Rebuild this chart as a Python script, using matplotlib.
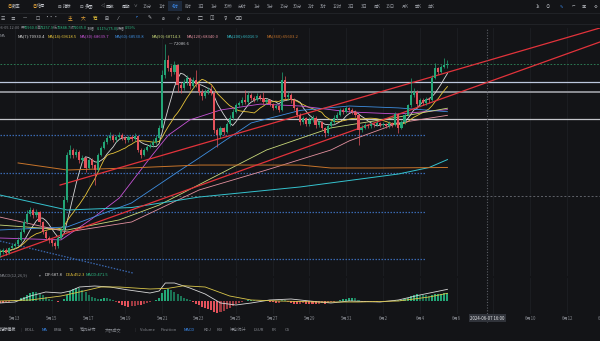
import numpy as np
import pandas as pd
import matplotlib
matplotlib.use("Agg")
import matplotlib.pyplot as plt
from matplotlib.lines import Line2D
from matplotlib.patches import Rectangle
from matplotlib.transforms import blended_transform_factory

plt.rcParams['font.family'] = ['Noto Sans CJK SC', 'DejaVu Sans']

# ---- BTC 4h candles, 2024-05-12 04:00 .. 2024-06-05 12:00 ----
open_ = [61010, 61170, 61270, 61110, 61380, 61480, 61590, 61800, 62220, 62740,
         63160, 63370, 63110, 63270, 62740, 62220, 61900, 61800, 61640, 61480,
         61900, 62320, 63900, 66260, 66520, 66260, 66420, 66000, 66100, 65580,
         66000, 65730, 65470, 66260, 66630, 66940, 67150, 67260, 67050, 67200,
         67310, 67150, 67050, 67200, 67100, 67260, 66520, 66260, 66520, 66680,
         66780, 66940, 67150, 67680, 70460, 71250, 70830, 70620, 70980, 69930,
         69780, 70090, 70300, 69880, 70200, 69990, 69570, 69360, 69570, 69670,
         69510, 67570, 67310, 67680, 67470, 67890, 68200, 68520, 68880, 68990,
         69150, 69040, 69410, 69250, 69150, 69360, 69250, 69040, 69150, 68940,
         68730, 68830, 68620, 70200, 69300, 69410, 69150, 68730, 68360, 67990,
         68200, 67890, 68100, 68200, 67830, 67990, 67680, 67410, 67780, 67990,
         68200, 68360, 68620, 68520, 68730, 68620, 68520, 68360, 67570, 67680,
         67830, 67780, 67890, 67830, 67940, 67830, 67890, 67780, 67940, 67830,
         68410, 67680, 67990, 68360, 68880, 69410, 69570, 68940, 69150, 68990,
         69200, 69150, 70300, 70830, 70620, 70880, 70960]
high = [61300, 61400, 61350, 61450, 61600, 61700, 61950, 62350, 62900, 63350,
        63530, 63450, 63400, 63320, 62800, 62300, 62000, 61900, 61750, 62000,
        62450, 64100, 66400, 66780, 66600, 66550, 66500, 66250, 66150, 66100,
        66100, 65800, 66350, 66750, 67050, 67300, 67450, 67350, 67300, 67450,
        67400, 67250, 67300, 67300, 67400, 67300, 66600, 66650, 66800, 66900,
        67100, 67300, 67850, 70700, 72086.6, 71500, 71000, 71200, 71050, 70100,
        70250, 70450, 70350, 70350, 70720, 70050, 69700, 69700, 69850, 69950,
        69600, 67700, 67800, 67750, 68000, 68350, 68650, 69000, 69100, 69300,
        69670, 69550, 69500, 69350, 69500, 69450, 69550, 69250, 69200, 69000,
        68950, 68900, 70620, 70400, 69550, 69500, 69250, 68800, 68450, 68300,
        68250, 68250, 68350, 68300, 68100, 68050, 67750, 67900, 68100, 68350,
        68500, 68750, 68700, 68850, 68800, 68700, 68600, 68400, 67850, 67950,
        67900, 67980, 67950, 68050, 68000, 67980, 67950, 68050, 68000, 68500,
        68450, 68100, 68450, 68950, 70300, 69800, 69650, 69250, 69250, 69300,
        69300, 70450, 71090, 70900, 71000, 71350, 71257.9]
low = [60900, 61080, 61000, 61050, 61300, 61400, 61500, 61750, 62150, 62650,
       63050, 62950, 63000, 62600, 62100, 61800, 61650, 61500, 61320, 61400,
       61850, 62250, 63800, 66100, 66100, 66150, 65850, 65900, 65370, 65500,
       65600, 64680, 65400, 66200, 66550, 66850, 67050, 66950, 66950, 67100,
       67050, 66900, 66950, 67000, 67000, 66400, 66100, 66200, 66450, 66600,
       66700, 66850, 67100, 67600, 70300, 70650, 70400, 70500, 69560, 69500,
       69650, 69950, 69700, 69800, 69850, 69400, 69150, 69250, 69450, 69400,
       67400, 66700, 67150, 67300, 67400, 67800, 68100, 68450, 68800, 68900,
       68950, 68950, 69150, 69050, 69100, 69150, 68950, 68950, 68850, 68600,
       68650, 68500, 68550, 69150, 69150, 69000, 68600, 68250, 67850, 67900,
       67800, 67800, 68000, 67700, 67750, 67550, 67200, 67350, 67700, 67900,
       68100, 68300, 68400, 68450, 68500, 68400, 68250, 66780, 67450, 67600,
       67700, 67700, 67750, 67800, 67750, 67750, 67700, 67700, 67750, 67800,
       67400, 67600, 67900, 68300, 68800, 69300, 68800, 68850, 68900, 68900,
       69000, 69100, 70250, 70500, 70550, 70800, 70848.7]
close = [61170, 61270, 61110, 61380, 61480, 61590, 61800, 62220, 62740, 63160,
         63370, 63110, 63270, 62740, 62220, 61900, 61800, 61640, 61480, 61900,
         62320, 63900, 66260, 66520, 66260, 66420, 66000, 66100, 65580, 66000,
         65730, 65470, 66260, 66630, 66940, 67150, 67260, 67050, 67200, 67310,
         67150, 67050, 67200, 67100, 67260, 66520, 66260, 66520, 66680, 66780,
         66940, 67150, 67680, 70460, 71250, 70830, 70620, 70980, 69930, 69780,
         70090, 70300, 69880, 70200, 69990, 69570, 69360, 69570, 69670, 69510,
         67570, 67310, 67680, 67470, 67890, 68200, 68520, 68880, 68990, 69150,
         69040, 69410, 69250, 69150, 69360, 69250, 69040, 69150, 68940, 68730,
         68830, 68620, 70200, 69300, 69410, 69150, 68730, 68360, 67990, 68200,
         67890, 68100, 68200, 67830, 67990, 67680, 67410, 67780, 67990, 68200,
         68360, 68620, 68520, 68730, 68620, 68520, 68360, 67570, 67680, 67830,
         67780, 67890, 67830, 67940, 67830, 67890, 67780, 67940, 67830, 68410,
         67680, 67990, 68360, 68880, 69410, 69570, 68940, 69150, 68990, 69200,
         69150, 70300, 70830, 70620, 70880, 70960, 71035]

# longer moving averages (bar index, value)
ma30_idx = [0, 20, 30, 39, 49, 55, 62, 72, 85, 98, 114, 130, 146]
ma30_val = [61900, 61800, 62900, 64000, 66100, 67300, 68100, 68620, 68930, 68830, 68520, 68410, 68640]
ma60_idx = [0, 22, 43, 59, 65, 82, 98, 114, 130, 146]
ma60_val = [62320, 62480, 63740, 65470, 66100, 67940, 68600, 68830, 68730, 68530]
ma90_idx = [0, 22, 39, 52, 65, 87, 108, 130, 146]
ma90_val = [62580, 62320, 62850, 63630, 64700, 66520, 67680, 68250, 68714]
ma120_idx = [0, 22, 43, 65, 87, 108, 114, 130, 146]
ma120_val = [63000, 62215, 62740, 64420, 65470, 66520, 67000, 67940, 68340]
ma200_idx = [0, 22, 43, 65, 98, 130, 140, 146]
ma200_val = [64160, 63370, 63500, 64050, 64580, 65260, 65600, 66017]
ma360_idx = [6, 22, 43, 65, 98, 108, 124, 146]
ma360_val = [65840, 65470, 65580, 65730, 65730, 65575, 65575, 65603]

# MACD(12,26,9)
macd_hist = [-90, -110, -80, -40, -10, 30, 80,
             160, 260, 380, 480, 540, 520, 430, 330,
             230, 140, 60, 10, -30, -20,
             120, 380, 600, 720, 770, 740, 650, 520, 380, 240,
             150, 120, 140, 160, 150, 120, 80,
             -40, -120, -220, -290, -330, -320, -280, -250, -260, -200, -130, -60,
             -10, 30, 150,
             480, 640, 700, 640, 560, 420, 300, 200,
             120, 40,
             -60, -150, -240, -330, -420, -500, -560, -640, -690, -670, -600, -500, -400, -300, -200,
             -120, -60, -20, 30, 60, 40, 20, -20, 20, 40,
             -40, -80, -120, -100, 80, 60, -40, -100, -150, -180,
             -160, -140, -170, -180, -190, -200, -170, -140, -150, -120,
             -80, -40, 10, 60, 100,
             140, 170, 190, 160, 40,
             -40, -60, -50, -40, -30, -30, -20, -20, -10, 0,
             20, 60, 40, 70, 120, 180, 280,
             360, 410, 380, 350, 330, 310,
             360, 400, 420, 440, 460, 471.5]
dif_idx = [0, 5, 10, 15, 20, 23, 26, 31, 36, 42, 49, 52, 54, 57, 62, 67, 72, 77, 82, 88,
           95, 101, 108, 114, 124, 130, 137, 146]
dif_val = [-118, -59, 295, 531, 472, 590, 826, 885, 826, 649, 472, 590, 1062, 1062, 767, 413,
           -118, -236, -118, 59, 118, 0, -118, 0, -59, 59, 354, 687.8]
dea_idx = [0, 10, 20, 26, 33, 39, 49, 55, 60, 67, 75, 82, 91, 104, 117, 130, 140, 146]
dea_val = [0, 59, 295, 531, 826, 826, 708, 750, 900, 826, 295, 59, 0, -59, -59, 0, 236, 452.3]

# drawing-tool objects (bar index / price)
channel_upper = ([19.7, 195.7], [64680, 72925])
channel_lower = ([0.1, 195.7], [60900, 72190])
fall_line = ([0.1, 43.5], [61740, 60060])
level_white = [70090, 68150]
level_gray = 69565
level_dashed = 64105
blue_levels = [67307, 65310, 63265, 60800]
blue_levels_end = 138.7
last_price = 71035

date_idx = list(range(5, 200, 12))
date_txt = ['5月13', '5月15', '5月17', '5月19', '5月21', '5月23', '5月25', '5月27', '5月29',
            '5月31', '6月2', '6月4', '6月6', '6月8', '6月10', '6月12', '6月14']
cross_idx = 159
cross_txt = '2024-06-07 16:00'

BG = '#131417'
GRID = '#1d1f24'
TXT = '#85888f'
UP = '#23a677'
DN = '#e4525b'
UP_DIM = '#1b7355'
DN_DIM = '#9c3a41'
ma_colors = {'MA(7)': '#d8d8d8', 'MA(14)': '#e8c53a', 'MA(30)': '#c653d6', 'MA(60)': '#3e8ee0',
             'MA(90)': '#c9d97a', 'MA(120)': '#e3919f', 'MA(200)': '#35c3cf', 'MA(360)': '#c7742a'}

W, H = 600, 341
fig = plt.figure(figsize=(W / 100, H / 100), dpi=100, facecolor=BG)


def label(x, y, s, color=TXT, size=3.1, ha='left', **kw):
    return fig.text(x / W, 1 - y / H, s, color=color, fontsize=size, ha=ha, va='center', **kw)


XLIM = (0.108, 195.74)
ax = fig.add_axes([0, 1 - 276 / H, 1, (276 - 28) / H])
ax.set_axis_off()
ax.set_xlim(*XLIM)
ax.set_ylim(59905, 72925)

axm = fig.add_axes([0, 1 - 314 / H, 1, 36 / H])
axm.set_axis_off()
axm.set_xlim(*XLIM)
axm.set_ylim(-767, 1357)

for a in (ax, axm):
    for t in date_idx:
        a.axvline(t, color=GRID, lw=0.6, zorder=0)

o = np.array(open_, float)
c = np.array(close, float)
hi = np.array(high, float)
lo = np.array(low, float)
x = np.arange(len(c))

# price levels and drawn lines
ax.axhline(level_white[0], color='#bcc8de', lw=0.9, zorder=1)
ax.axhline(level_gray, color='#8c8e94', lw=1.4, zorder=1)
ax.axhline(level_white[1], color='#c4c6cb', lw=0.9, zorder=1)
ax.axhline(level_dashed, color='#5f6269', lw=0.7, ls=(0, (2, 2)), zorder=1)
ax.hlines(blue_levels, XLIM[0], blue_levels_end, color='#3a68b0', lw=0.9, ls=(0, (1.2, 1.2)), zorder=1)
ax.axhline(last_price, color='#2f8a5c', lw=0.6, ls=(0, (2, 2)), zorder=1)
ax.plot(*fall_line, color='#3a68b0', lw=0.9, ls=(0, (1.2, 1.2)), zorder=1)

# moving averages
s = pd.Series(c)
ax.plot(x, s.rolling(7, min_periods=1).mean(), color=ma_colors['MA(7)'], lw=0.6, zorder=3)
ax.plot(x, s.rolling(14, min_periods=1).mean(), color=ma_colors['MA(14)'], lw=0.6, zorder=3)
ax.plot(ma30_idx, ma30_val, color=ma_colors['MA(30)'], lw=0.6, zorder=3)
ax.plot(ma60_idx, ma60_val, color=ma_colors['MA(60)'], lw=0.6, zorder=3)
ax.plot(ma90_idx, ma90_val, color=ma_colors['MA(90)'], lw=0.6, zorder=3)
ax.plot(ma120_idx, ma120_val, color=ma_colors['MA(120)'], lw=0.6, zorder=3)
ax.plot(ma200_idx, ma200_val, color=ma_colors['MA(200)'], lw=0.7, zorder=3)
ax.plot(ma360_idx, ma360_val, color=ma_colors['MA(360)'], lw=0.7, zorder=3)

# channel
ax.plot(*channel_upper, color='#e2333b', lw=0.9, zorder=4)
ax.plot(*channel_lower, color='#e2333b', lw=0.9, zorder=4)

# candles
col = np.where(c >= o, UP, DN)
ax.vlines(x, lo, hi, colors=col, lw=0.5, zorder=5)
body = np.maximum(np.abs(c - o), 25)
ax.bar(x, body, bottom=np.minimum(o, c), width=0.7, color=col, lw=0, zorder=6)

top = int(np.argmax(hi))
ax.text(top + 1.2, hi[top], '— %.1f' % hi[top], color='#c9cbd0', fontsize=3, va='center', zorder=7)

# MACD panel: strengthening bars bright, weakening bars dim
hist = np.array(macd_hist, float)
prev = np.concatenate([[0], hist[:-1]])
grow = np.abs(hist) >= np.abs(prev)
hcol = np.where(hist >= 0, np.where(grow, UP, UP_DIM), np.where(grow, DN, DN_DIM))
axm.bar(x, hist, width=0.66, color=hcol, lw=0)
axm.plot(dif_idx, dif_val, color='#d8d8d8', lw=0.6)
axm.plot(dea_idx, dea_val, color='#d9c64a', lw=0.6)

# crosshair and date axis
bt = blended_transform_factory(ax.transData, fig.transFigure)
fig.add_artist(Line2D([cross_idx, cross_idx], [1 - 322 / H, 1 - 28 / H], transform=bt,
                      color='#5b5e65', lw=0.8, ls=(0, (1, 1.5))))
for t, s_ in zip(date_idx, date_txt):
    if t != 161:
        fig.text(t, 1 - 318 / H, s_, transform=bt, color=TXT, fontsize=3.1, ha='center', va='center')
fig.text(cross_idx, 1 - 318 / H, cross_txt, transform=bt, color='#e6e7ea', fontsize=3.1,
         ha='center', va='center', bbox=dict(boxstyle='square,pad=0.35', fc='#30333a', ec='none'))

# toolbar separators
for yy in (12.5, 23.5):
    fig.add_artist(Line2D([0, 1], [1 - yy / H, 1 - yy / H], transform=fig.transFigure, color='#23252a', lw=0.6))

# top toolbar
label(8, 6, '◎', color='#e0a13a')
label(12, 6, '数率', color='#c3c6cc')
label(33, 6, '◎', color='#e0a13a')
label(37, 6, '信号', color='#c3c6cc')
label(58, 6, '⊟', color='#c3c6cc')
label(63, 6, '指标', color='#c3c6cc')
label(80, 6, '⊡', color='#c3c6cc')
label(85, 6, '多图', color='#c3c6cc')
label(101, 6, '◁', color='#c3c6cc')
label(106, 6, '回放', color='#c3c6cc')
label(122, 6, '周期', color='#c3c6cc')
label(134, 6, '∨', color='#c3c6cc', size=2.6)
periods = [(147, '15分'), (162, '1时'), (175, '4时'), (188.5, '8时'), (200.5, '1日'), (213.5, '1分'),
           (228, '30秒'), (242.5, '分时'), (256.5, '1分'), (270, '5分'), (284, '15分'), (297, '30分'),
           (311, '2时'), (323.5, '3时'), (337.5, '12时'), (351.5, '2日'), (364.5, '3日'), (377.5, '周K'),
           (390.5, '15日'), (405, '月K'), (418, '季K'), (431, '年K')]
fig.patches.append(Rectangle((168 / W, 1 - 11 / H), 14 / W, 10 / H, transform=fig.transFigure,
                             fc='#1e2a3c', ec='none'))
for xx, t in periods:
    label(xx, 6, t, color='#3b8cf0' if t == '4时' else '#8f9299', ha='center')
for xx, t, cc in [(538, '1s', '#c3c6cc'), (548, '⊙', '#c3c6cc'), (561, '✎', '#3b8cf0'),
                  (573, '⌐', '#c3c6cc'), (584, '▣', '#c3c6cc'), (595, '⚙', '#c3c6cc')]:
    label(xx, 6, t, color=cc, ha='center')

tools = [(3, '☰', '#c3c6cc'), (13, '≡', '#c3c6cc'), (25, '—', '#c3c6cc'), (38, '☐', '#c3c6cc'),
         (51, '···', '#c3c6cc'), (70, '主', '#e0a13a'), (83, '大', '#e0a13a'), (95, '筹', '#e8c53a'),
         (107, '⊞', '#c3c6cc'), (118, '⁄', '#c3c6cc'), (137, '⌜', '#3b8cf0'), (150, '✎', '#c3c6cc'),
         (163, '⌀', '#c3c6cc'), (177, '∥', '#c3c6cc'), (188, '⌂', '#c3c6cc'), (200, '▢', '#c3c6cc'),
         (212, '◫', '#c3c6cc'), (225, '⊽', '#c3c6cc'), (237, '⌫', '#c3c6cc')]
for xx, t, cc in tools:
    label(xx, 18, t, color=cc, ha='center', size=3.4)

# OHLC header
GV = '#2ebd85'
label(19.5, 28, '2024-06-05 12:00', color=TXT, size=2.8, ha='right')
hdr = [(21, '开', TXT), (24, '70960.0', GV), (37, '高', TXT),
       (40, '71257.9', GV), (53, '低', TXT), (57, '70848.7', GV), (70, '收', TXT), (73, '71035.0', GV),
       (87, '涨幅', TXT), (97, '0.11%(75.0)', GV), (117, '振幅', TXT), (125, '0.59%', GV)]
for xx, t, cc in hdr:
    label(xx, 28, t, color=cc, size=2.8)

# MA legend
label(0, 36, 'MA', color=TXT, size=3.0)
ma_last = [('MA(7)', 70930.4, 18), ('MA(14)', 69618.5, 48), ('MA(30)', 68639.7, 80),
           ('MA(60)', 68530.8, 115), ('MA(90)', 68714.3, 152), ('MA(120)', 68340.0, 187),
           ('MA(200)', 66016.9, 227), ('MA(360)', 65603.2, 267)]
for name, v, xx in ma_last:
    label(xx, 36, '%s:%.1f' % (name, v), color=ma_colors[name], size=3.0)

# MACD legend
label(0, 275, 'MACD(12,26,9)', color=TXT, size=3.0)
label(39, 275, '▾', color=TXT, size=2.6)
label(45, 275, 'DIF:687.8', color='#d8d8d8', size=3.0)
label(66, 275, 'DEA:452.3', color='#e8c53a', size=3.0)
label(86, 275, 'MACD:471.5', color=GV, size=3.0)

# indicator bar
bar_items = [(0, '指标模板', '#c3c6cc'), (25, 'BOLL', TXT), (42, 'MA', '#3b8cf0'), (54, 'EMA', TXT),
             (69, 'TD', TXT), (80, '筹码分布', TXT), (105, '大额成交', TXT), (135, '|', '#44474d'),
             (140, 'Volume', TXT), (161, 'Position', TXT), (184, 'MACD', '#3b8cf0'), (204, 'KDJ', TXT),
             (217, 'RSI', TXT), (230, '爆仓统计', TXT), (254, 'LSUR', TXT), (272, 'FR', TXT), (285, 'CS', TXT)]
label(21, 330, '|', color='#44474d', size=3.0)
for xx, t, cc in bar_items:
    label(xx, 330, t, color=cc, size=3.0)

fig.savefig('out.png', dpi=100, facecolor=BG)
